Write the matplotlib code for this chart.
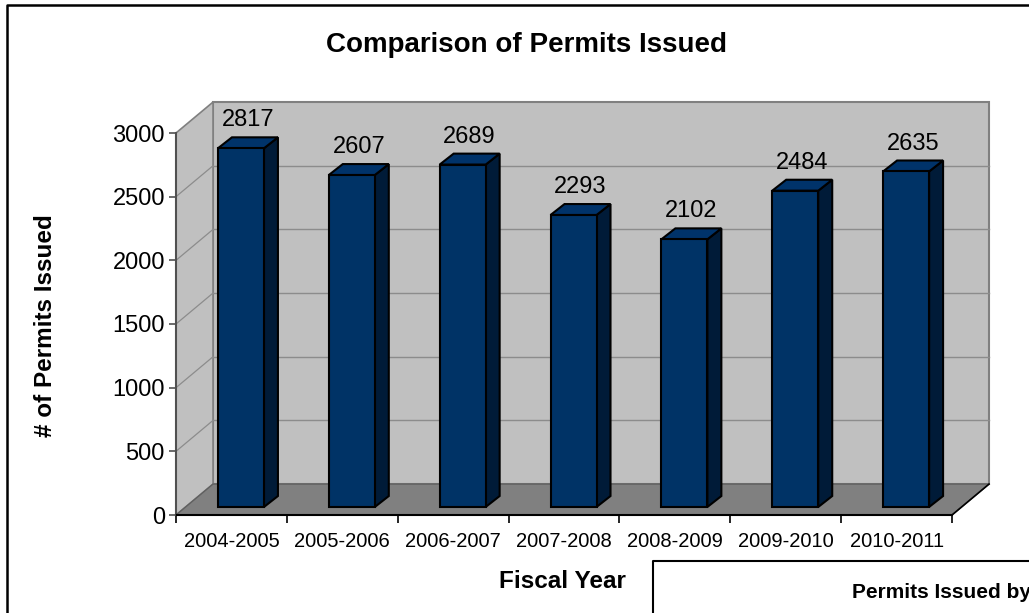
import numpy as np
import matplotlib.pyplot as plt
from matplotlib.patches import Polygon
from matplotlib.lines import Line2D

plt.rcParams['font.family'] = ['Liberation Sans', 'DejaVu Sans']

years = ['2004-2005', '2005-2006', '2006-2007', '2007-2008',
         '2008-2009', '2009-2010', '2010-2011']
permits = [2817, 2607, 2689, 2293, 2102, 2484, 2635]
yticks = [0, 500, 1000, 1500, 2000, 2500, 3000]

W, H = 1029, 613
fig = plt.figure(figsize=(W / 100, H / 100), dpi=100)
fig.patch.set_facecolor('white')

# front plane of the 3d box
ax = fig.add_axes([176 / W, (H - 515) / H, (952 - 176) / W, (515 - 133) / H])
n = len(years)
ymax = yticks[-1]
ax.set_xlim(0, n)
ax.set_ylim(0, ymax)
ax.patch.set_visible(False)

# depth offsets (data units)
wall_dx, wall_dy = 0.334, 243
bar_dx, bar_dy = 0.086, 63
deep_dx, deep_dy = 0.126, 86
bar_w = 0.415

wall_col = '#c0c0c0'
edge_col = '#808080'

# back wall, side wall and floor
back = Polygon([(wall_dx, wall_dy), (n + wall_dx, wall_dy),
                (n + wall_dx, ymax + wall_dy), (wall_dx, ymax + wall_dy)],
               closed=True, fc=wall_col, ec=edge_col, lw=1.5, zorder=0, clip_on=False)
side = Polygon([(0, 0), (wall_dx, wall_dy), (wall_dx, ymax + wall_dy), (0, ymax)],
               closed=True, fc=wall_col, ec=edge_col, lw=1.2, zorder=0, clip_on=False)
floor = Polygon([(0, 0), (n, 0), (n + wall_dx, wall_dy), (wall_dx, wall_dy)],
                closed=True, fc='#808080', ec='#606060', lw=1.0, zorder=0.2, clip_on=False)
ax.add_patch(back)
ax.add_patch(side)

# gridlines on the walls
for t in yticks[1:-1]:
    ax.plot([wall_dx, n + wall_dx], [t + wall_dy, t + wall_dy], color='#8c8c8c',
            lw=1.0, zorder=0.1, clip_on=False)
    ax.plot([0, wall_dx], [t, t + wall_dy], color='#8c8c8c', lw=0.9,
            zorder=0.1, clip_on=False)
ax.add_patch(floor)
ax.plot([n, n + wall_dx], [0, wall_dy], color='black', lw=1.2, zorder=0.3, clip_on=False)

# 3d columns
front_col = '#003366'
top_col = '#00336a'
side_col = '#001b38'
for i, v in enumerate(permits):
    x0 = i + 0.5 - bar_w / 2 + bar_dx
    y0 = bar_dy
    x1 = x0 + bar_w
    front = Polygon([(x0, y0), (x1, y0), (x1, y0 + v), (x0, y0 + v)],
                    closed=True, fc=front_col, ec='black', lw=1.5, zorder=2, clip_on=False)
    right = Polygon([(x1, y0), (x1 + deep_dx, y0 + deep_dy),
                     (x1 + deep_dx, y0 + v + deep_dy), (x1, y0 + v)],
                    closed=True, fc=side_col, ec='black', lw=1.5, zorder=2, clip_on=False)
    top = Polygon([(x0, y0 + v), (x1, y0 + v), (x1 + deep_dx, y0 + v + deep_dy),
                   (x0 + deep_dx, y0 + v + deep_dy)],
                  closed=True, fc=top_col, ec='black', lw=1.5, zorder=2, clip_on=False)
    for p in (right, top, front):
        ax.add_patch(p)
    ax.text(i + 0.5 + bar_dx + deep_dx / 2, y0 + v + deep_dy + 86, str(v),
            ha='center', va='baseline', fontsize=17, zorder=3)

# axes
for s in ('top', 'right'):
    ax.spines[s].set_visible(False)
ax.spines['left'].set_color('#505050')
ax.spines['left'].set_linewidth(1.5)
ax.spines['bottom'].set_color('black')
ax.spines['bottom'].set_linewidth(1.5)
ax.spines['left'].set_zorder(1)
ax.spines['bottom'].set_zorder(1)

ax.set_yticks(yticks)
ax.set_yticklabels([str(t) for t in yticks])
ax.tick_params(axis='y', direction='out', length=5, width=1.2, color='#505050',
               labelsize=17, pad=3)
ax.set_xticks(np.arange(n + 1))
ax.set_xticklabels([])
ax.set_xticks(np.arange(n) + 0.5, minor=True)
ax.set_xticklabels(years, minor=True)
ax.tick_params(axis='x', which='major', direction='out', length=6, width=1.2, color='black')
ax.tick_params(axis='x', which='minor', length=0, labelsize=14.5, pad=12)

# titles
fig.text(526 / W, 1 - 45 / H, 'Comparison of Permits Issued', ha='center', va='center',
         fontsize=20, fontweight='bold')
fig.text(46 / W, 1 - 326 / H, '# of Permits Issued', ha='center', va='center',
         rotation=90, fontsize=17.5, fontweight='bold')
fig.text(562 / W, 1 - 582 / H, 'Fiscal Year', ha='center', va='center',
         fontsize=17.5, fontweight='bold')

# chart border and the neighbouring chart box
fig.add_artist(Line2D([7 / W, 7 / W, 1.0], [0.0, 1 - 5 / H, 1 - 5 / H],
                      transform=fig.transFigure, color='black', lw=1.8))
fig.add_artist(Line2D([653 / W, 653 / W, 1.0], [0.0, 1 - 561 / H, 1 - 561 / H],
                      transform=fig.transFigure, color='black', lw=1.5))
fig.text(852 / W, 1 - 592 / H, 'Permits Issued by Type', ha='left', va='center',
         fontsize=15, fontweight='bold')

fig.savefig('out.png', dpi=100)
